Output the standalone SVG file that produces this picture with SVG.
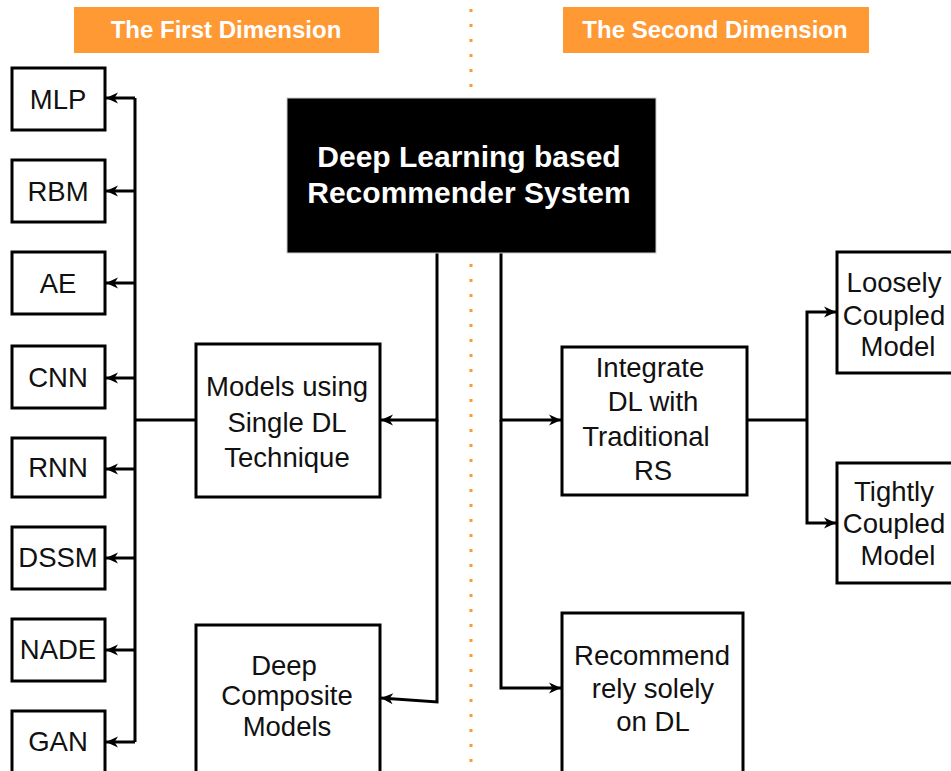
<svg xmlns="http://www.w3.org/2000/svg" width="951" height="771" viewBox="0 0 951 771">
<style>
.box{fill:#fff;stroke:#000;stroke-width:3}
.t{font-family:"Liberation Sans",Arial,sans-serif;font-size:27.5px;fill:#111;text-anchor:middle}
.bt{font-family:"Liberation Sans",Arial,sans-serif;font-weight:bold;fill:#fff;text-anchor:middle}
.c{fill:none;stroke:#000;stroke-width:3}
</style>
<defs>
<marker id="ah" markerUnits="userSpaceOnUse" markerWidth="14" markerHeight="14" viewBox="0 0 14 14" refX="13" refY="7" orient="auto">
<path d="M1,1.5 L13,7 L1,12.5 L4.5,7 z" fill="#000"/>
</marker>
</defs>
<rect width="951" height="771" fill="#fff"/>
<line x1="471" y1="9" x2="471" y2="771" stroke="#FF9933" stroke-width="3" stroke-dasharray="3 12"/>
<g id="banner1"><rect x="74" y="7" width="305" height="46" fill="#FF9933"/><text class="bt" x="226" y="38" font-size="24">The First Dimension</text></g>
<g id="banner2"><rect x="563" y="7" width="306" height="46" fill="#FF9933"/><text class="bt" x="715" y="38" font-size="24">The Second Dimension</text></g>
<g id="connectors">
<path class="c" d="M196,420 H135"/>
<path class="c" d="M135,98 V742"/>
<path class="c" d="M135,98 H106" marker-end="url(#ah)"/>
<path class="c" d="M135,191 H106" marker-end="url(#ah)"/>
<path class="c" d="M135,283 H106" marker-end="url(#ah)"/>
<path class="c" d="M135,378 H106" marker-end="url(#ah)"/>
<path class="c" d="M135,469 H106" marker-end="url(#ah)"/>
<path class="c" d="M135,558 H106" marker-end="url(#ah)"/>
<path class="c" d="M135,650 H106" marker-end="url(#ah)"/>
<path class="c" d="M135,742 H106" marker-end="url(#ah)"/>
<path class="c" d="M437,253 V420 H381" marker-end="url(#ah)"/>
<path class="c" d="M437,420 V702 L381,698" marker-end="url(#ah)"/>
<path class="c" d="M501,253 V420 H561" marker-end="url(#ah)"/>
<path class="c" d="M501,420 V688 H561" marker-end="url(#ah)"/>
<path class="c" d="M747,420 H807"/>
<path class="c" d="M807,420 V312 H836" marker-end="url(#ah)"/>
<path class="c" d="M807,420 V523 H836" marker-end="url(#ah)"/>
</g>
<g id="root"><rect x="287" y="98" width="369" height="155" fill="#000" stroke="#ccc" stroke-width="1"/>
<text class="bt" x="469" y="167" font-size="30">Deep Learning based</text>
<text class="bt" x="469" y="203" font-size="30">Recommender System</text></g>
<g id="mlp"><rect class="box" x="12" y="68" width="93" height="62"/><text class="t" x="58" y="109">MLP</text></g>
<g id="rbm"><rect class="box" x="12" y="160" width="93" height="62"/><text class="t" x="58" y="201">RBM</text></g>
<g id="ae"><rect class="box" x="12" y="252" width="93" height="62"/><text class="t" x="58" y="293">AE</text></g>
<g id="cnn"><rect class="box" x="12" y="346" width="93" height="62"/><text class="t" x="58" y="387">CNN</text></g>
<g id="rnn"><rect class="box" x="12" y="438" width="93" height="59"/><text class="t" x="58" y="477">RNN</text></g>
<g id="dssm"><rect class="box" x="12" y="527" width="93" height="62"/><text class="t" x="58" y="567">DSSM</text></g>
<g id="nade"><rect class="box" x="12" y="619" width="93" height="62"/><text class="t" x="58" y="659">NADE</text></g>
<g id="gan"><rect class="box" x="12" y="711" width="93" height="70"/><text class="t" x="58" y="751">GAN</text></g>
<g id="single"><rect class="box" x="196" y="344" width="184" height="153"/>
<text class="t" x="287" y="396">Models using</text><text class="t" x="287" y="432">Single DL</text><text class="t" x="287" y="467">Technique</text></g>
<g id="composite"><rect class="box" x="196" y="625" width="184" height="160"/>
<text class="t" x="284" y="675">Deep</text><text class="t" x="287" y="705">Composite</text><text class="t" x="287" y="736">Models</text></g>
<g id="integrate"><rect class="box" x="562" y="347" width="185" height="148"/>
<text class="t" x="650" y="377">Integrate</text><text class="t" x="653" y="411">DL with</text><text class="t" x="646" y="446">Traditional</text><text class="t" x="653" y="480">RS</text></g>
<g id="recommend"><rect class="box" x="562" y="613" width="181" height="170"/>
<text class="t" x="652" y="665">Recommend</text><text class="t" x="653" y="698">rely solely</text><text class="t" x="653" y="731">on DL</text></g>
<g id="loosely"><rect class="box" x="837" y="252" width="125" height="121"/>
<text class="t" x="894" y="292">Loosely</text><text class="t" x="894" y="325">Coupled</text><text class="t" x="898" y="356">Model</text></g>
<g id="tightly"><rect class="box" x="837" y="463" width="125" height="120"/>
<text class="t" x="894" y="501">Tightly</text><text class="t" x="894" y="533">Coupled</text><text class="t" x="898" y="565">Model</text></g>
</svg>
